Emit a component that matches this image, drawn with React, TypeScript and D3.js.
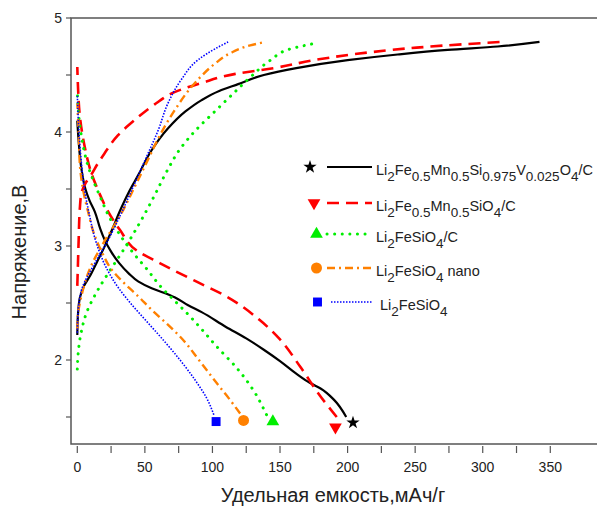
import * as d3 from 'd3'

// capacity (mAh/g), voltage (V)
const blackCharge: [number, number][] = [[0, 2.22], [0.5, 2.4], [2, 2.55], [5, 2.65], [10, 2.75], [15, 2.87], [20, 2.99], [26, 3.15], [32, 3.32], [38, 3.47], [45, 3.62], [55, 3.84], [67, 4.03], [80, 4.18], [92, 4.28], [105, 4.36], [119, 4.42], [138, 4.5], [162, 4.56], [200, 4.63], [237, 4.68], [274, 4.72], [311, 4.75], [342, 4.79]]
const blackDischarge: [number, number][] = [[0, 4.1], [1, 3.92], [3, 3.68], [6, 3.5], [9, 3.4], [13, 3.3], [17, 3.15], [20, 3.06], [25, 2.95], [31, 2.85], [38, 2.76], [45, 2.69], [55, 2.63], [64, 2.59], [72, 2.55], [82, 2.48], [92, 2.42], [110, 2.29], [125, 2.19], [138, 2.09], [150, 1.99], [162, 1.88], [172, 1.8], [180, 1.75], [190, 1.65], [199, 1.5]]
const redCharge: [number, number][] = [[0, 2.65], [0.5, 2.85], [1, 3.05], [2, 3.35], [3, 3.46], [6, 3.55], [10, 3.62], [15, 3.72], [20, 3.81], [30, 3.97], [42, 4.1], [57, 4.24], [72, 4.35], [92, 4.43], [117, 4.51], [145, 4.56], [180, 4.64], [217, 4.7], [251, 4.74], [286, 4.77], [314, 4.79]]
const redDischarge: [number, number][] = [[0, 4.57], [0.5, 4.4], [1.8, 4.15], [5.5, 3.87], [10.4, 3.64], [15, 3.5], [22, 3.32], [31.6, 3.14], [44, 2.96], [61, 2.85], [86, 2.7], [110, 2.56], [135, 2.35], [150, 2.18], [165, 1.94], [180, 1.68], [192, 1.5]]
const greenCharge: [number, number][] = [[0, 1.92], [1, 2.1], [3, 2.25], [7, 2.42], [15, 2.61], [25, 2.8], [36, 3.0], [47, 3.22], [57, 3.44], [66, 3.65], [76, 3.85], [88, 4.02], [100, 4.16], [113, 4.31], [128, 4.48], [143, 4.63], [158, 4.73], [177, 4.78]]
const greenDischarge: [number, number][] = [[0, 4.37], [1, 4.15], [4, 3.9], [8, 3.7], [11, 3.6], [17, 3.43], [23, 3.27], [32, 3.09], [42, 2.93], [52, 2.79], [62, 2.64], [72, 2.52], [82, 2.4], [92, 2.27], [103, 2.12], [118, 1.93], [130, 1.74], [140, 1.52]]
const orangeCharge: [number, number][] = [[0, 2.27], [0.5, 2.4], [3, 2.56], [10, 2.82], [20, 3.04], [30, 3.23], [42.5, 3.52], [52, 3.75], [62, 3.99], [72, 4.19], [87, 4.43], [102, 4.6], [113, 4.69], [128, 4.76], [139, 4.79]]
const orangeDischarge: [number, number][] = [[0, 4.25], [1, 4.0], [2, 3.7], [5, 3.45], [8, 3.3], [12, 3.12], [18, 2.95], [25, 2.8], [35, 2.67], [45, 2.56], [55, 2.44], [67, 2.31], [78, 2.18], [90, 2.0], [103, 1.8], [113, 1.65], [120.5, 1.53]]
const blueCharge: [number, number][] = [[0, 2.24], [0.5, 2.4], [3, 2.61], [13, 2.85], [22.7, 3.05], [32.6, 3.29], [42.5, 3.55], [50, 3.75], [60, 4.02], [67, 4.25], [77, 4.46], [89, 4.63], [102, 4.73], [111.6, 4.79]]
const blueDischarge: [number, number][] = [[0, 4.33], [1, 4.05], [2.5, 3.8], [5, 3.52], [9, 3.27], [14, 3.03], [21, 2.82], [30, 2.64], [40, 2.49], [52, 2.33], [64, 2.17], [76, 2.0], [88, 1.81], [96, 1.66], [101, 1.52]]

const markerPoints: [number, number][] = [[204, 1.45], [191, 1.41], [144.7, 1.46], [123, 1.47], [102.7, 1.46]]

const xTicks = [0, 50, 100, 150, 200, 250, 300, 350]
const xMinor = [25, 75, 125, 175, 225, 275, 325]
const yTicks = [2, 3, 4, 5]
const yMinor = [1.5, 2.5, 3.5, 4.5]

// legend labels as [text, isSubscript] parts
const legendLabels: [string, boolean][][] = [
  [['Li', false], ['2', true], ['Fe', false], ['0.5', true], ['Mn', false], ['0.5', true], ['Si', false], ['0.975', true], ['V', false], ['0.025', true], ['O', false], ['4', true], ['/C', false]],
  [['Li', false], ['2', true], ['Fe', false], ['0.5', true], ['Mn', false], ['0.5', true], ['SiO', false], ['4', true], ['/C', false]],
  [['Li', false], ['2', true], ['FeSiO', false], ['4', true], ['/C', false]],
  [['Li', false], ['2', true], ['FeSiO', false], ['4', true], [' nano', false]],
  [['Li', false], ['2', true], ['FeSiO', false], ['4', true]],
]

const series = [
  {color: '#000000', dash: 'none', width: 2.2, curves: [blackCharge, blackDischarge], symbol: d3.symbolStar, size: 55, rotate: 0, cap: 'butt'},
  {color: '#ff0000', dash: '12 7', width: 2.6, curves: [redCharge, redDischarge], symbol: d3.symbolTriangle, size: 70, rotate: 180, cap: 'butt'},
  {color: '#00ee00', dash: '0.1 7.5', width: 3, curves: [greenCharge, greenDischarge], symbol: d3.symbolTriangle, size: 70, rotate: 0, cap: 'round'},
  {color: '#ff8000', dash: '8 4 2 4', width: 2.4, curves: [orangeCharge, orangeDischarge], symbol: d3.symbolCircle, size: 95, rotate: 0, cap: 'butt'},
  {color: '#0000ff', dash: '1.5 1.5', width: 1.6, curves: [blueCharge, blueDischarge], symbol: d3.symbolSquare, size: 80, rotate: 0, cap: 'butt'},
]

const legendRows = [167, 203, 234, 268, 302]
const legendSymX = [310, 314, 316.5, 316.5, 317.5]

export default function App() {
  const width = 597
  const height = 507

  const x = d3.scaleLinear().domain([0, 350]).range([77.3, 550.3])
  const y = d3.scaleLinear().domain([2, 4]).range([360, 132])

  const left = 71
  const top = y(5)
  const bottom = 444
  const textColor = '#222'
  const font = 'Liberation Sans, Arial, sans-serif'

  // every curve is monotone in voltage
  const line = d3.line<[number, number]>()
    .x(d => x(d[0]))
    .y(d => y(d[1]))
    .curve(d3.curveMonotoneY)
  const byVoltage = (c: [number, number][]) => [...c].sort((a, b) => a[1] - b[1])

  return (
    <svg width={width} height={height} style={{position: 'absolute', left: 0, top: 0, fontFamily: font}}>
      <rect width={width} height={height} fill="white" />
      {/* frame */}
      <path d={`M${width},${top}H${left}V${bottom}H${width}`} fill="none" stroke="#555" strokeWidth={1.5} />

      {/* x ticks */}
      {xTicks.concat(xMinor).map(t => (
        <line key={'xt' + t} x1={x(t)} x2={x(t)} y1={446} y2={453} stroke="#555" strokeWidth={1.2} />
      ))}
      {xTicks.map(t => (
        <text key={'xl' + t} x={x(t)} y={472} textAnchor="middle" fontSize={14} fill={textColor}>{t}</text>
      ))}
      {/* y ticks */}
      {yTicks.concat(yMinor).map(t => (
        <line key={'yt' + t} x1={66} x2={left} y1={y(t)} y2={y(t)} stroke="#555" strokeWidth={1.2} />
      ))}
      {yTicks.map(t => (
        <text key={'yl' + t} x={62} y={y(t) + 5} textAnchor="end" fontSize={14} fill={textColor}>{t}</text>
      ))}

      {/* axis titles */}
      <text x={333} y={502} textAnchor="middle" fontSize={20} fill={textColor}>Удельная емкость,мАч/г</text>
      <text transform={`translate(26,252) rotate(-90)`} textAnchor="middle" fontSize={20} fill={textColor}>Напряжение,В</text>

      {/* curves */}
      {series.map((s, i) => s.curves.map((c, j) => (
        <path key={`c${i}-${j}`} d={line(byVoltage(c)) || ''} fill="none" stroke={s.color} strokeWidth={s.width}
          strokeDasharray={s.dash} strokeLinecap={s.cap as any} />
      )))}

      {/* markers at end of discharge */}
      {series.map((s, i) => (
        <path key={'m' + i} d={d3.symbol().type(s.symbol).size(s.size)() || ''}
          transform={`translate(${x(markerPoints[i][0])},${y(markerPoints[i][1])}) rotate(${s.rotate})`}
          fill={s.color} />
      ))}

      {/* legend */}
      {series.map((s, i) => (
        <g key={'lg' + i}>
          <path d={d3.symbol().type(s.symbol).size(s.size)() || ''}
            transform={`translate(${legendSymX[i]},${legendRows[i]}) rotate(${s.rotate})`} fill={s.color} />
          <line x1={i === 4 ? 331 : 327} x2={i === 2 ? 367 : 372} y1={legendRows[i]} y2={legendRows[i]}
            stroke={s.color} strokeWidth={s.width} strokeDasharray={s.dash} strokeLinecap={s.cap as any} />
          <text x={i === 4 ? 380 : 376} y={legendRows[i] + 8} fontSize={14.5} fill={textColor}>
            {legendLabels[i].map(([t, sub], k) => {
              const prevSub = k > 0 && legendLabels[i][k - 1][1]
              const dy = sub ? 6 : (prevSub ? -6 : 0)
              return <tspan key={k} dy={dy} fontSize={sub ? 13.5 : 14.5}>{t}</tspan>
            })}
          </text>
        </g>
      ))}
    </svg>
  )
}
